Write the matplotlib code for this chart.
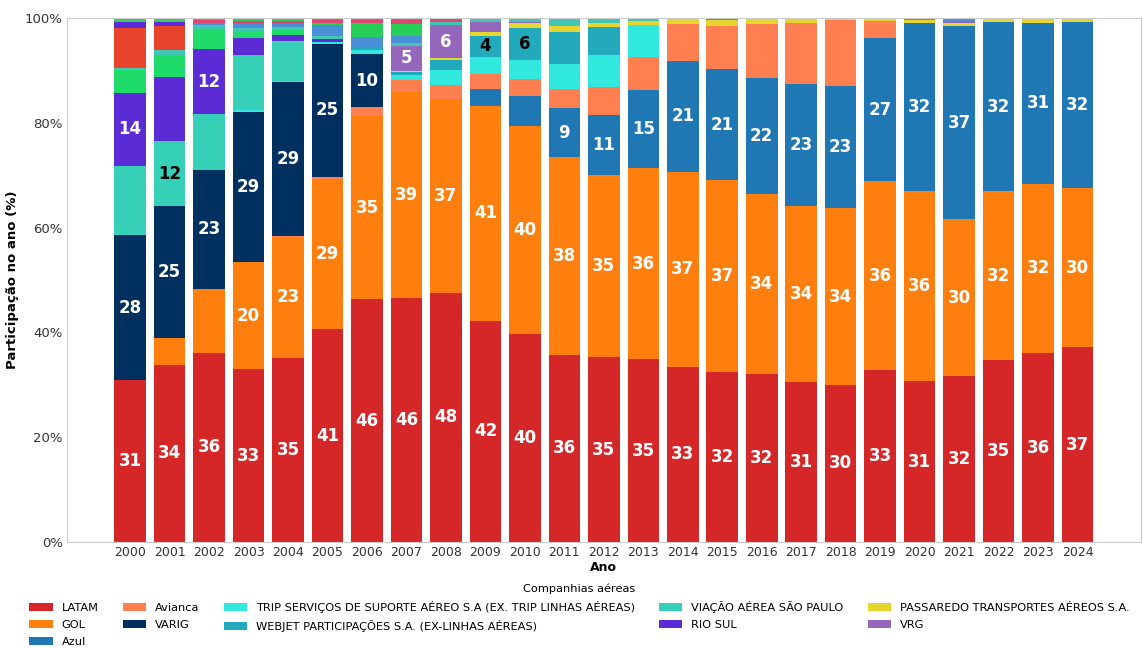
import matplotlib
matplotlib.use("Agg")
import matplotlib.pyplot as plt
import numpy as np

anos = list(range(2000, 2025))

# participação (%) por companhia, 2000..2024, na ordem de empilhamento
latam = [30.9, 33.8, 36.1, 33.0, 35.2, 40.6, 46.3, 46.5, 47.6, 42.2, 39.7, 35.7, 35.3,
         34.9, 33.4, 32.4, 32.1, 30.6, 30.0, 32.8, 30.7, 31.7, 34.7, 36.0, 37.2]
gol = [0, 5.2, 12.2, 20.4, 23.0, 28.7, 35.0, 39.3, 36.9, 41.1, 39.7, 37.8, 34.7,
       36.4, 37.3, 36.6, 34.3, 33.5, 33.7, 36.1, 36.3, 29.9, 32.2, 32.4, 30.3]
azul = [0, 0, 0, 0, 0, 0, 0, 0, 0, 3.1, 5.7, 9.3, 11.4,
        15.0, 21.1, 21.3, 22.1, 23.4, 23.4, 27.2, 32.0, 36.9, 32.3, 30.7, 31.7]
avianca = [0, 0, 0, 0, 0.2, 0.4, 1.7, 2.4, 2.7, 2.9, 3.3, 3.6, 5.4,
           6.3, 7.1, 8.2, 10.4, 11.6, 12.5, 3.3, 0, 0, 0, 0, 0]
varig = [27.7, 25.1, 22.7, 28.7, 29.3, 25.3, 10.1, 0, 0, 0, 0, 0, 0,
         0, 0, 0, 0, 0, 0, 0, 0, 0, 0, 0, 0]
trip = [0, 0, 0, 0.4, 0.3, 0.5, 0.8, 0.9, 2.9, 3.3, 3.6, 4.8, 6.2,
        6.1, 0, 0, 0, 0, 0, 0, 0, 0, 0, 0, 0]
webjet = [0, 0, 0, 0, 0, 0, 0.4, 0.6, 1.9, 4.0, 6.0, 6.2, 5.2,
          0, 0, 0, 0, 0, 0, 0, 0, 0, 0, 0, 0]
vasp = [13.2, 12.4, 10.6, 10.4, 7.7, 0, 0, 0, 0, 0, 0, 0, 0,
        0, 0, 0, 0, 0, 0, 0, 0, 0, 0, 0, 0]
rio_sul = [13.9, 12.2, 12.5, 3.2, 1.0, 0.5, 0, 0, 0, 0, 0, 0, 0,
           0, 0, 0, 0, 0, 0, 0, 0, 0, 0, 0, 0]
passaredo = [0, 0, 0, 0, 0, 0, 0, 0.2, 0.3, 0.7, 1.1, 1.1, 0.9,
             0.7, 0.9, 1.1, 0.9, 0.8, 0.4, 0.5, 0.6, 0.6, 0.6, 0.9, 0.6]
vrg = [0, 0, 0, 0, 0, 0, 0, 4.8, 6.4, 1.9, 0.2, 0, 0,
       0, 0.2, 0.2, 0.2, 0.1, 0, 0.1, 0.4, 0.3, 0, 0, 0]

# demais companhias (fora da legenda)
outra_verde = [4.4, 4.2, 3.8, 1.5, 1.1, 0, 0, 0, 0, 0, 0, 0, 0,
               0, 0, 0, 0, 0, 0, 0, 0, 0, 0, 0, 0]
outra_teal = [0.3, 1.0, 0.8, 0.4, 0.4, 0.5, 0, 0.6, 0.6, 0.8, 0.7, 1.5, 0.9,
              0.6, 0, 0, 0, 0, 0, 0, 0, 0, 0, 0, 0]
outra_azul = [0, 0, 0.4, 0.8, 0.7, 2.2, 2.0, 1.3, 0, 0, 0, 0, 0,
              0, 0, 0, 0, 0, 0, 0, 0, 0.6, 0, 0, 0]
outra_verde2 = [0, 0, 0, 0, 0, 0.4, 2.7, 2.3, 0, 0, 0, 0, 0,
                0, 0, 0, 0, 0, 0, 0, 0, 0, 0, 0, 0]
outra_vermelha = [7.7, 4.6, 0, 0, 0, 0, 0, 0, 0, 0, 0, 0, 0,
                  0, 0, 0, 0, 0, 0, 0, 0, 0, 0, 0, 0]
outra_roxa = [1.1, 0.8, 0, 0, 0, 0, 0, 0, 0, 0, 0, 0, 0,
              0, 0, 0, 0, 0, 0, 0, 0, 0, 0, 0, 0]
outra_rosa = [0, 0, 0.5, 0.7, 0.6, 0.9, 1.0, 1.1, 0.7, 0, 0, 0, 0,
              0, 0, 0.2, 0, 0, 0, 0, 0, 0, 0.2, 0, 0.2]
outra_verde3 = [0.8, 0.7, 0.4, 0.5, 0.5, 0, 0, 0, 0, 0, 0, 0, 0,
                0, 0, 0, 0, 0, 0, 0, 0, 0, 0, 0, 0]

series = [
    ("LATAM", latam, "#d62728", "white"),
    ("GOL", gol, "#ff7f0e", "white"),
    ("Azul", azul, "#1f77b4", "white"),
    ("Avianca", avianca, "#ff7f50", "white"),
    ("VARIG", varig, "#003060", "white"),
    ("TRIP SERVIÇOS DE SUPORTE AÉREO S.A (EX. TRIP LINHAS AÉREAS)", trip, "#30e8de", "black"),
    ("WEBJET PARTICIPAÇÕES S.A. (EX-LINHAS AÉREAS)", webjet, "#23a9bc", "black"),
    ("VIAÇÃO AÉREA SÃO PAULO", vasp, "#36d0b8", "black"),
    ("RIO SUL", rio_sul, "#5b2bd6", "white"),
    ("PASSAREDO TRANSPORTES AÉREOS S.A.", passaredo, "#e6d52e", "black"),
    ("VRG", vrg, "#9467bd", "white"),
    ("_outra1", outra_verde, "#1fdc6a", "black"),
    ("_outra2", outra_teal, "#40c6b2", "black"),
    ("_outra3", outra_azul, "#4a90d9", "white"),
    ("_outra4", outra_verde2, "#26d058", "black"),
    ("_outra5", outra_vermelha, "#e8432b", "white"),
    ("_outra6", outra_roxa, "#5b2bd6", "white"),
    ("_outra7", outra_rosa, "#e2466e", "white"),
    ("_outra8", outra_verde3, "#3cc860", "black"),
]

fig = plt.figure(figsize=(11.43, 6.48), dpi=100)
ax = fig.add_axes([0.0586, 0.1636, 0.9394, 0.8086])

x = np.arange(len(anos))
bottom = np.zeros(len(anos))
centers = []
for name, vals, color, _ in series:
    vals = np.array(vals, dtype=float)
    ax.bar(x, vals, bottom=bottom, width=0.8, color=color, label=name, linewidth=0)
    centers.append(bottom + vals / 2)
    bottom = bottom + vals

# rótulos nas 3 maiores fatias de cada ano
all_vals = np.array([s[1] for s in series], dtype=float)
for j in range(len(anos)):
    top3 = np.argsort(all_vals[:, j])[::-1][:3]
    for i in top3:
        ax.text(x[j], centers[i][j], f"{all_vals[i, j]:.0f}", ha="center", va="center",
                color=series[i][3], fontsize=12, fontweight="bold")

ax.set_xlim(-1.6, 25.6)
ax.set_ylim(0, 100)
ax.set_xticks(x)
ax.set_xticklabels([str(a) for a in anos], fontsize=9, color="#333333")
ax.set_yticks([0, 20, 40, 60, 80, 100])
ax.set_yticklabels(["0%", "20%", "40%", "60%", "80%", "100%"], fontsize=9.5, color="#333333")
ax.tick_params(length=0, pad=3)
for sp in ax.spines.values():
    sp.set_color("#cccccc")
ax.set_xlabel("Ano", fontsize=9, fontweight="bold", labelpad=1)
ax.set_ylabel("Participação no ano (%)", fontsize=9.5, fontweight="bold")

fig.legend(title="Companhias aéreas", loc="upper center", bbox_to_anchor=(0.507, 0.114),
           ncol=5, frameon=False, fontsize=8.2, title_fontsize=8.2, borderpad=0.35,
           handlelength=2.05, columnspacing=2.1, labelspacing=0.6)

fig.savefig("out.png", dpi=100)
